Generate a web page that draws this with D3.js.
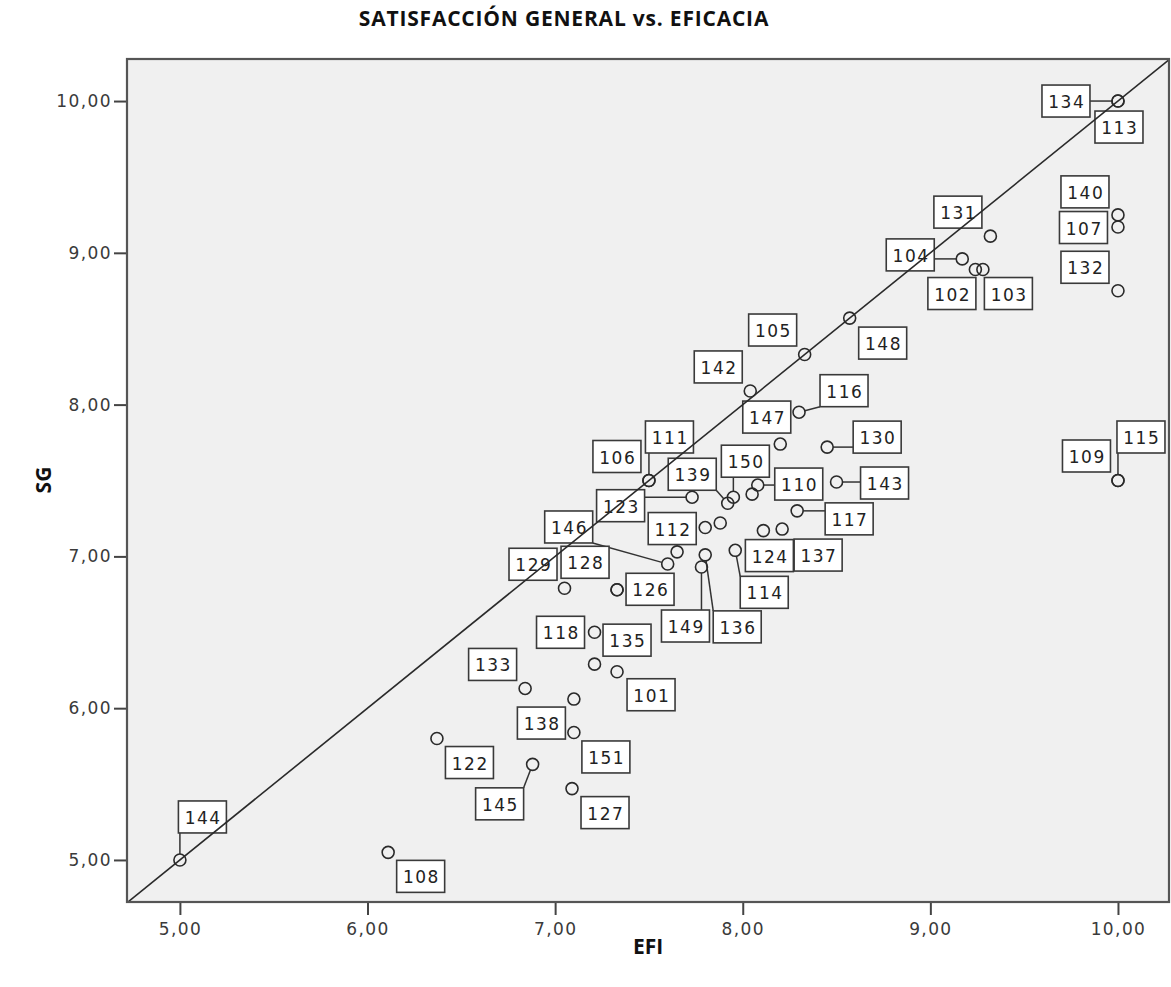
<!DOCTYPE html>
<html>
<head>
<meta charset="utf-8">
<script src="https://cdn.jsdelivr.net/npm/d3@7"></script>
<style>
  html, body { margin: 0; padding: 0; background: #ffffff; }
  svg { display: block; }
</style>
</head>
<body>
<svg id="chart" width="1171" height="987"></svg>
<script>
// ---- data ----
const title = "SATISFACCIÓN GENERAL vs. EFICACIA";
const xLabel = "EFI";
const yLabel = "SG";
const ids = ["134","113","140","107","132","131","104","102","103","148","105","142","116","147","130","143","110","","117","150","139","123","106","111","112","","146","","129","128","126","149","136","124","137","114","118","135","101","133","138","151","122","145","127","144","108","109","115"];
const efi = [10.00,10.00,10.00,10.00,10.00,9.32,9.17,9.24,9.28,8.57,8.33,8.04,8.30,8.20,8.45,8.50,8.08,8.05,8.29,7.95,7.92,7.73,7.50,7.50,7.80,7.88,7.60,7.65,7.05,7.33,7.33,7.78,7.80,8.11,8.21,7.96,7.21,7.21,7.33,6.84,7.10,7.10,6.37,6.88,7.09,5.00,6.11,10.00,10.00];
const sg  = [10.00,10.00,9.25,9.17,8.75,9.11,8.96,8.89,8.89,8.57,8.33,8.09,7.95,7.74,7.72,7.49,7.47,7.41,7.30,7.39,7.35,7.39,7.50,7.50,7.19,7.22,6.95,7.03,6.79,6.78,6.78,6.93,7.01,7.17,7.18,7.04,6.50,6.29,6.24,6.13,6.06,5.84,5.80,5.63,5.47,5.00,5.05,7.50,7.50];
const xTicks = [5, 6, 7, 8, 9, 10];
const yTicks = [5, 6, 7, 8, 9, 10];

// ---- layout (label box offsets in pixels, relative to each point) ----
const labelOffsets = {
  "134":[-52,0],"113":[1,26],"140":[-33,-23],"107":[-34.5,0.5],"132":[-33,-23.5],
  "131":[-32.5,-24],"104":[-52,-4],"102":[-23.5,24],"103":[25.5,24],"148":[33,25],
  "105":[-32,-24.5],"142":[-32,-24],"116":[45,-21.5],"147":[-13.5,-27],"130":[50,-10],
  "143":[48,1],"110":[41,-1],"117":[52,8],"150":[12,-36],"139":[-35.5,-29],
  "123":[-71.5,8.5],"106":[-32,-24],"111":[20.5,-43.5],"112":[-33,1],"146":[-99,-37],
  "129":[-31.5,-24],"128":[-32,-27.5],"126":[33,-0.5],"149":[-16,59],"136":[32,72],
  "124":[6,25],"137":[36,26],"114":[29,42],"118":[-34,0],"135":[32.5,-24],
  "101":[34,23],"133":[-32.5,-24],"138":[-32.5,24],"151":[32,24.5],"122":[32.5,24],
  "145":[-33,39.5],"127":[33,24],"144":[22.5,-43],"108":[32.5,24],"109":[-31.5,-24.5],
  "115":[23,-43.5]
};

const plot = {left: 127, right: 1169, top: 59, bottom: 902};
const svg = d3.select("#chart");

const x = d3.scaleLinear().domain([4.718, 10.272]).range([plot.left, plot.right]);
const y = d3.scaleLinear().domain([4.723, 10.277]).range([plot.bottom, plot.top]);

const tickFont = "'DejaVu Sans', Verdana, sans-serif";

// background
svg.append("rect")
  .attr("x", plot.left).attr("y", plot.top)
  .attr("width", plot.right - plot.left).attr("height", plot.bottom - plot.top)
  .attr("fill", "#f0f0f0");

// axes
const fmt = d => d.toFixed(2).replace(".", ",");
const xAxis = svg.append("g")
  .attr("transform", `translate(0,${plot.bottom})`)
  .call(d3.axisBottom(x).tickValues(xTicks).tickFormat(fmt).tickSize(13).tickSizeOuter(0));
const yAxis = svg.append("g")
  .attr("transform", `translate(${plot.left},0)`)
  .call(d3.axisLeft(y).tickValues(yTicks).tickFormat(fmt).tickSize(13).tickSizeOuter(0));
[xAxis, yAxis].forEach(g => {
  g.select(".domain").remove();
  g.selectAll(".tick line").attr("stroke", "#444").attr("stroke-width", 2);
  g.selectAll(".tick text")
    .attr("fill", "#3a3a3a")
    .style("font-family", tickFont)
    .style("font-size", "17px")
    .style("letter-spacing", "1.4px");
});
xAxis.selectAll(".tick text").attr("dy", "1.0em").attr("y", 16);
yAxis.selectAll(".tick text").attr("x", -15);

const data = ids.map((id, i) => ({id, ex: efi[i], sg: sg[i]}));

// label boxes + connectors
const BW = 48, BH = 32, R = 6;
const labGroup = svg.append("g");
data.forEach(d => {
  if (!d.id || !labelOffsets[d.id]) return;
  const px = x(d.ex), py = y(d.sg);
  const [dx, dy] = labelOffsets[d.id];
  const cx = px + dx, cy = py + dy;
  const nx = Math.max(cx - BW/2, Math.min(px, cx + BW/2));
  const ny = Math.max(cy - BH/2, Math.min(py, cy + BH/2));
  const dist = Math.hypot(nx - px, ny - py);
  if (dist > 16) {
    const ux = (nx - px) / dist, uy = (ny - py) / dist;
    labGroup.append("line")
      .attr("x1", px + ux * R).attr("y1", py + uy * R)
      .attr("x2", nx).attr("y2", ny)
      .attr("stroke", "#333").attr("stroke-width", 1.5);
  }
});
data.forEach(d => {
  if (!d.id || !labelOffsets[d.id]) return;
  const px = x(d.ex), py = y(d.sg);
  const [dx, dy] = labelOffsets[d.id];
  const cx = px + dx, cy = py + dy;
  labGroup.append("rect")
    .attr("x", cx - BW/2).attr("y", cy - BH/2)
    .attr("width", BW).attr("height", BH)
    .attr("fill", "#ffffff").attr("stroke", "#3a3a3a").attr("stroke-width", 1.6);
  labGroup.append("text")
    .attr("x", cx + 0.8).attr("y", cy + 1)
    .attr("text-anchor", "middle").attr("dominant-baseline", "central")
    .style("font-family", tickFont).style("font-size", "17px")
    .style("letter-spacing", "1.5px")
    .attr("fill", "#222")
    .text(d.id);
});

// clip for reference line
svg.append("clipPath").attr("id", "clip").append("rect")
  .attr("x", plot.left).attr("y", plot.top)
  .attr("width", plot.right - plot.left).attr("height", plot.bottom - plot.top);

// y = x reference line
const lo = 4.718, hi = 10.277;
svg.append("line")
  .attr("clip-path", "url(#clip)")
  .attr("x1", x(lo)).attr("y1", y(lo))
  .attr("x2", x(hi)).attr("y2", y(hi))
  .attr("stroke", "#2a2a2a").attr("stroke-width", 1.6);

// points
svg.append("g").selectAll("circle").data(data).join("circle")
  .attr("cx", d => x(d.ex)).attr("cy", d => y(d.sg))
  .attr("r", R)
  .attr("fill", "none").attr("stroke", "#2a2a2a").attr("stroke-width", 1.6);

// frame
svg.append("rect")
  .attr("x", plot.left).attr("y", plot.top)
  .attr("width", plot.right - plot.left).attr("height", plot.bottom - plot.top)
  .attr("fill", "none").attr("stroke", "#555").attr("stroke-width", 2.2);

// titles
const boldFont = "'Open Sans', 'Noto Sans', sans-serif";
svg.append("text")
  .attr("x", 564).attr("y", 26)
  .attr("text-anchor", "middle")
  .style("font-family", boldFont).style("font-weight", "bold").style("font-size", "21px")
  .style("letter-spacing", "0.8px")
  .attr("fill", "#111")
  .text(title);
svg.append("text")
  .attr("x", 648).attr("y", 954)
  .attr("text-anchor", "middle")
  .style("font-family", boldFont).style("font-weight", "bold").style("font-size", "21px")
  .attr("fill", "#111")
  .text(xLabel);
svg.append("text")
  .attr("transform", "translate(51,480) rotate(-90)")
  .attr("text-anchor", "middle")
  .style("font-family", boldFont).style("font-weight", "bold").style("font-size", "21px")
  .attr("fill", "#111")
  .text(yLabel);
</script>
</body>
</html>
